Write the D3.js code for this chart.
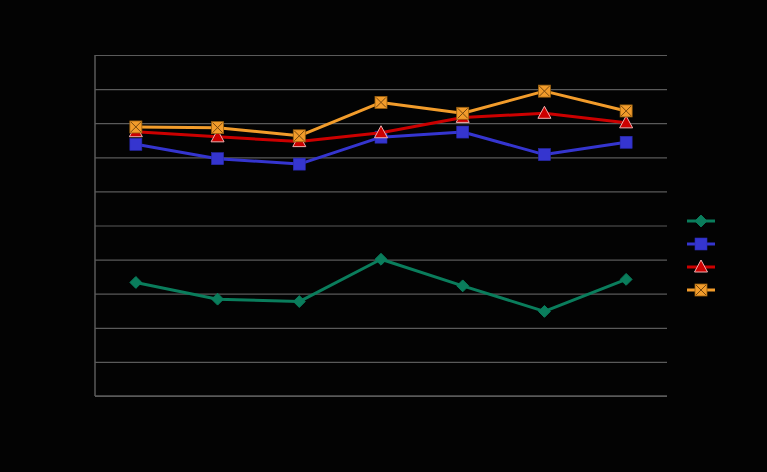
<!DOCTYPE html>
<html><head><meta charset="utf-8">
<script src="https://cdn.jsdelivr.net/npm/d3@7/dist/d3.min.js"></script>
<style>html,body{margin:0;padding:0;background:#030303;}svg{display:block;}</style>
</head><body>
<script>
const categories = ["1","2","3","4","5","6","7"];
const seriesA = [33.3, 28.4, 27.7, 40.1, 32.3, 24.8, 34.2];
const seriesB = [73.8, 69.6, 68.0, 75.9, 77.4, 70.8, 74.4];
const seriesC = [77.5, 76.0, 74.6, 77.2, 81.7, 82.9, 80.1];
const seriesD = [78.9, 78.7, 76.3, 86.1, 82.9, 89.4, 83.6];
const yTicks = [0,10,20,30,40,50,60,70,80,90,100];

const W = 767, H = 472;
const m = {left:95, right:100, top:55, bottom:76};
const svg = d3.select("body").append("svg").attr("width", W).attr("height", H);
svg.append("rect").attr("width", W).attr("height", H).attr("fill", "#030303");

const x = d3.scaleBand().domain(categories).range([m.left, W - m.right]);
const y = d3.scaleLinear().domain([0, 100]).range([H - m.bottom, m.top]);

// gridlines
svg.append("g").attr("transform", `translate(${m.left},0)`)
  .call(d3.axisLeft(y).tickValues(yTicks).tickSize(-(W - m.right - m.left)).tickFormat(""))
  .call(g => g.select(".domain").remove())
  .call(g => g.selectAll(".tick line").attr("stroke", "#5a5a5a").attr("stroke-width", 1.2));
// axes lines
svg.append("line").attr("x1", m.left).attr("x2", m.left).attr("y1", y(100)).attr("y2", y(0))
  .attr("stroke", "#5a5a5a").attr("stroke-width", 1.5);
svg.append("line").attr("x1", m.left).attr("x2", W - m.right).attr("y1", y(0)).attr("y2", y(0))
  .attr("stroke", "#5a5a5a").attr("stroke-width", 1.5);

const series = [
  {name:"A", values: seriesA, color:"#0a7d5c", marker:"diamond"},
  {name:"B", values: seriesB, color:"#3535cf", marker:"square"},
  {name:"C", values: seriesC, color:"#cc0000", marker:"triangle"},
  {name:"D", values: seriesD, color:"#f29c2b", marker:"xsquare"}
];

function drawMarker(g, type, cx, cy, color) {
  if (type === "diamond") {
    g.append("path").attr("d", d3.symbol(d3.symbolDiamond2 || d3.symbolDiamond, 90)())
      .attr("transform", `translate(${cx},${cy}) rotate(0)`)
      .attr("fill", color).attr("stroke", color);
  } else if (type === "square") {
    g.append("rect").attr("x", cx - 6).attr("y", cy - 6).attr("width", 12).attr("height", 12)
      .attr("fill", color).attr("stroke", "#2a2ab0").attr("stroke-width", 0.6);
  } else if (type === "triangle") {
    g.append("path").attr("d", `M${cx},${cy-7}L${cx+6.5},${cy+5}L${cx-6.5},${cy+5}Z`)
      .attr("fill", color).attr("stroke", "#f2b0b0").attr("stroke-width", 1);
  } else {
    g.append("rect").attr("x", cx - 6).attr("y", cy - 6).attr("width", 12).attr("height", 12)
      .attr("fill", color).attr("stroke", "#9a6010").attr("stroke-width", 0.8);
    g.append("path").attr("d", `M${cx-5},${cy-5}L${cx+5},${cy+5}M${cx+5},${cy-5}L${cx-5},${cy+5}`)
      .attr("stroke", "#7a4a10").attr("stroke-width", 1);
  }
}

const line = d3.line().x((d, i) => x(categories[i]) + x.bandwidth() / 2).y(d => y(d));
series.forEach(s => {
  const g = svg.append("g");
  g.append("path").datum(s.values).attr("d", line).attr("fill", "none")
    .attr("stroke", s.color).attr("stroke-width", 3).attr("stroke-linejoin", "round");
  s.values.forEach((v, i) => drawMarker(g, s.marker, x(categories[i]) + x.bandwidth() / 2, y(v), s.color));
});

// legend
const lg = svg.append("g");
series.forEach((s, i) => {
  const ly = 221 + i * 23;
  lg.append("line").attr("x1", 687).attr("x2", 715).attr("y1", ly).attr("y2", ly)
    .attr("stroke", s.color).attr("stroke-width", 3);
  drawMarker(lg, s.marker, 701, ly, s.color);
});
</script>
</body></html>
